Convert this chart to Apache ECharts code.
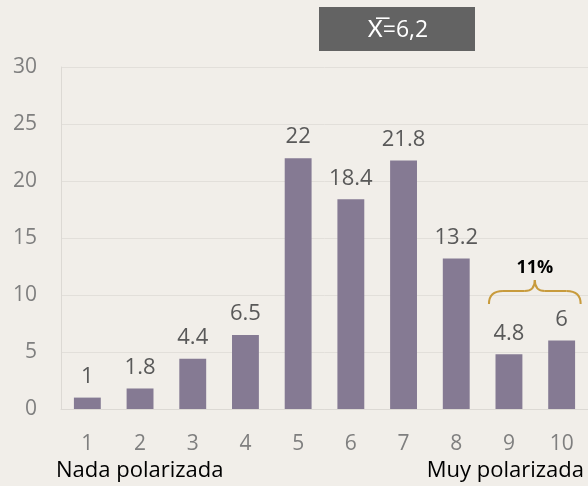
<!DOCTYPE html>
<html>
<head>
    <meta charset="utf-8">
    <script src="https://cdn.jsdelivr.net/npm/echarts@6/dist/echarts.min.js"></script>
    <style>
        html, body { margin: 0; padding: 0; background: #f1eee9; }
        #chart { width: 588px; height: 486px; }
    </style>
</head>
<body>
    <div id="chart"></div>
<script type="text/javascript">
    // datos
    var categories = ['1', '2', '3', '4', '5', '6', '7', '8', '9', '10'];
    var values = [1, 1.8, 4.4, 6.5, 22, 18.4, 21.8, 13.2, 4.8, 6];
    var meanText = 'X\u0305=6,2';
    var groupText = '11%';

    var font = '"Open Sans", Lato, sans-serif';
    var chart = echarts.init(document.getElementById('chart'));

    var option = {
        backgroundColor: '#f1eee9',
        animation: false,
        grid: { left: 61, right: -1, top: 67, bottom: 77 },
        xAxis: {
            type: 'category',
            data: categories,
            axisLine: { lineStyle: { color: '#dcd9d4' } },
            axisTick: { show: false },
            axisLabel: { color: '#7f7f7f', fontSize: 21, fontFamily: font, margin: 25 }
        },
        yAxis: {
            type: 'value',
            min: 0, max: 30, interval: 5,
            axisLine: { show: true, lineStyle: { color: '#dcd9d4' } },
            splitLine: { lineStyle: { color: '#e2dfda' } },
            axisLabel: { color: '#7f7f7f', fontSize: 21, fontFamily: font, margin: 24 }
        },
        series: [{
            type: 'bar',
            data: values,
            barWidth: '51%',
            itemStyle: { color: '#857a93' },
            label: {
                show: true, position: 'top', distance: 10,
                color: '#595959', fontSize: 22, fontFamily: font
            }
        }]
    };
    chart.setOption(option);

    // llave sobre las barras 9 y 10
    var p9 = chart.convertToPixel({ seriesIndex: 0 }, [8, 0]);
    var p10 = chart.convertToPixel({ seriesIndex: 0 }, [9, 0]);
    var x1 = p9[0] - 20, x2 = p10[0] + 19, xm = (x1 + x2) / 2;
    var yb = 304, yt = 291, ytip = 280;
    var braceStyle = { stroke: '#c89b3c', lineWidth: 2, fill: null };
    function curve(ax, ay, cx, cy, bx, by) {
        return { type: 'bezierCurve', shape: { x1: ax, y1: ay, cpx1: cx, cpy1: cy, x2: bx, y2: by }, style: braceStyle };
    }
    function seg(ax, ay, bx, by) {
        return { type: 'line', shape: { x1: ax, y1: ay, x2: bx, y2: by }, style: braceStyle };
    }

    chart.setOption({
        graphic: [
            {
                type: 'rect', x: 319, y: 7,
                shape: { width: 156, height: 44 },
                style: { fill: '#636363' }
            },
            {
                type: 'text', x: 398, y: 30,
                style: {
                    text: meanText, fill: '#ffffff', fontSize: 23, fontFamily: font,
                    align: 'center', verticalAlign: 'middle'
                }
            },
            curve(x1, yb, x1, yt, x1 + 14, yt),
            seg(x1 + 14, yt, xm - 10, yt),
            curve(xm - 10, yt, xm, yt, xm, ytip),
            curve(xm, ytip, xm, yt, xm + 10, yt),
            seg(xm + 10, yt, x2 - 14, yt),
            curve(x2 - 14, yt, x2, yt, x2, yb),
            {
                type: 'text', x: xm, y: 268,
                style: {
                    text: groupText, fill: '#000000', fontSize: 18, fontWeight: 'bold',
                    fontFamily: font, align: 'center', verticalAlign: 'middle'
                }
            },
            {
                type: 'text', x: 56, y: 471,
                style: { text: 'Nada polarizada', fill: '#000000', fontSize: 22, fontFamily: font, verticalAlign: 'middle' }
            },
            {
                type: 'text', x: 584, y: 471,
                style: { text: 'Muy polarizada', fill: '#000000', fontSize: 22, fontFamily: font, align: 'right', verticalAlign: 'middle' }
            }
        ]
    });
</script>
</body>
</html>
